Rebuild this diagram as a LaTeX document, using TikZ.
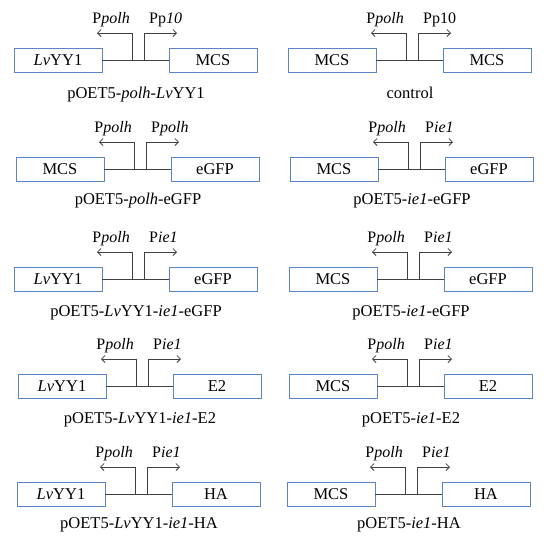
\documentclass[tikz,border=0pt]{standalone}
\usepackage{fontspec}
\setmainfont{Liberation Serif}
\usetikzlibrary{arrows.meta}
\definecolor{boxblue}{HTML}{5A84C4}
\definecolor{linegray}{HTML}{404040}
\tikzset{
  genebox/.style={draw=boxblue, line width=0.9pt, minimum width=88pt, minimum height=24pt, inner sep=0pt, font=\fontsize{16.5}{19}\selectfont},
  conn/.style={draw=linegray, line width=0.85pt},
  prom/.style={conn, -{Straight Barb[length=3.5pt,width=7pt]}},
  plabel/.style={inner sep=0pt, font=\fontsize{16}{19}\selectfont},
  capt/.style={inner sep=0pt, font=\fontsize{16.5}{19}\selectfont, anchor=base}
}
\newcommand\mypanel[9]{%
  \begin{scope}[shift={(#2pt,-#3pt)}]
    \node[genebox] (#1-l) at (58pt,0pt) {#4};
    \node[genebox] (#1-r) at (213pt,0pt) {#5};
    \coordinate (#1-p1) at (132pt,0pt);
    \coordinate (#1-p2) at (144pt,0pt);
    \coordinate (#1-t1) at (97pt,27pt);
    \coordinate (#1-t2) at (177pt,27pt);
    \draw[conn] (#1-l.east) -- (#1-r.west);
    \draw[prom] (#1-p1) |- (#1-t1);
    \draw[prom] (#1-p2) |- (#1-t2);
    \node[plabel, anchor=base east] (#1-lp) at (130pt,37pt) {#6};
    \node[plabel, anchor=base west] (#1-rp) at (149pt,37pt) {#7};
    \node[capt] (#1-c) at (136pt,-#9pt) {#8};
  \end{scope}}
\begin{document}
\begin{tikzpicture}
\useasboundingbox (0,0) rectangle (548pt,-550pt);
\mypanel{a}{0}{60}{\textit{Lv}YY1}{MCS}{P\textit{polh}}{Pp\textit{10}}{pOET5-\textit{polh}-\textit{Lv}YY1}{38}
\mypanel{b}{274}{60}{MCS}{MCS}{P\textit{polh}}{Pp10}{control}{38}
\mypanel{c}{2}{169}{MCS}{eGFP}{P\textit{polh}}{P\textit{polh}}{pOET5-\textit{polh}-eGFP}{35}
\mypanel{d}{276}{169}{MCS}{eGFP}{P\textit{polh}}{P\textit{ie1}}{pOET5-\textit{ie1}-eGFP}{35}
\mypanel{e}{0}{279}{\textit{Lv}YY1}{eGFP}{P\textit{polh}}{P\textit{ie1}}{pOET5-\textit{Lv}YY1-\textit{ie1}-eGFP}{37}
\mypanel{f}{275}{279}{MCS}{eGFP}{P\textit{polh}}{P\textit{ie1}}{pOET5-\textit{ie1}-eGFP}{37}
\mypanel{g}{4}{386}{\textit{Lv}YY1}{E2}{P\textit{polh}}{P\textit{ie1}}{pOET5-\textit{Lv}YY1-\textit{ie1}-E2}{37}
\mypanel{h}{275}{386}{MCS}{E2}{P\textit{polh}}{P\textit{ie1}}{pOET5-\textit{ie1}-E2}{37}
\mypanel{i}{3}{494}{\textit{Lv}YY1}{HA}{P\textit{polh}}{P\textit{ie1}}{pOET5-\textit{Lv}YY1-\textit{ie1}-HA}{34}
\mypanel{j}{273}{494}{MCS}{HA}{P\textit{polh}}{P\textit{ie1}}{pOET5-\textit{ie1}-HA}{34}
\end{tikzpicture}
\end{document}
